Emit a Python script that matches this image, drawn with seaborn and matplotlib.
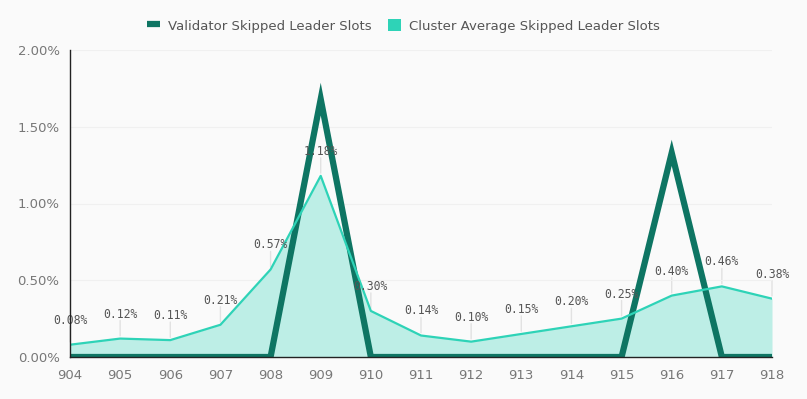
import matplotlib
matplotlib.use("Agg")
import matplotlib.pyplot as plt
import matplotlib.ticker as mticker
from matplotlib.lines import Line2D
from matplotlib.patches import Patch
import seaborn as sns
import pandas as pd

epochs = [904, 905, 906, 907, 908, 909, 910, 911, 912, 913, 914, 915, 916, 917, 918]
validator_skipped = [0, 0, 0, 0, 0, 1.68, 0, 0, 0, 0, 0, 0, 1.33, 0, 0]
cluster_skipped = [0.08, 0.12, 0.11, 0.21, 0.57, 1.18, 0.30, 0.14, 0.10, 0.15, 0.20, 0.25, 0.40, 0.46, 0.38]

dark_teal = "#0e7563"
light_teal = "#2ed3b7"
fill_teal = "#bdeee6"
bg = "#fafafa"

df = pd.DataFrame({"epoch": epochs, "validator": validator_skipped, "cluster": cluster_skipped})

sns.set_style("white")
plt.rcParams["font.family"] = ["DejaVu Sans"]

fig = plt.figure(figsize=(8.07, 3.99), dpi=100, facecolor=bg)
ax = fig.add_axes([70 / 807, 42 / 399, 702 / 807, 307 / 399], facecolor=bg)

ax.fill_between(df["epoch"], df["cluster"], 0, color=fill_teal, linewidth=0, zorder=1)
sns.lineplot(data=df, x="epoch", y="cluster", ax=ax, color=light_teal, linewidth=1.6, zorder=3)
sns.lineplot(data=df, x="epoch", y="validator", ax=ax, color=dark_teal, linewidth=4.5, zorder=2)
ax.lines[-1].set_solid_joinstyle("miter")
ax.lines[-1].set_solid_capstyle("butt")

for x, v in zip(epochs, cluster_skipped):
    ax.annotate("", xy=(x, v), xytext=(0, 15), textcoords="offset points",
                arrowprops=dict(arrowstyle="-", color="#e2e2e2", lw=1), zorder=0)
    ax.annotate(f"{v:.2f}%", xy=(x, v), xytext=(0, 13), textcoords="offset points",
                ha="center", va="bottom", fontsize=8.3, color="#555555",
                family="DejaVu Sans Mono", zorder=4)

ax.set_xlim(904, 918)
ax.set_ylim(0, 2.0)
ax.set_xticks(epochs)
ax.set_yticks([0, 0.5, 1.0, 1.5, 2.0])
ax.yaxis.set_major_formatter(mticker.FuncFormatter(lambda v, p: f"{v:.2f}%"))
ax.grid(axis="y", color="#f0f0f0", linewidth=0.8)
ax.set_axisbelow(True)
ax.set_xlabel("")
ax.set_ylabel("")

for side in ["top", "right"]:
    ax.spines[side].set_visible(False)
for side in ["left", "bottom"]:
    ax.spines[side].set_color("#222222")
    ax.spines[side].set_linewidth(1)
    ax.spines[side].set_zorder(5)
ax.tick_params(axis="both", which="major", length=5, width=1, color="#222222",
               labelsize=9.5, labelcolor="#777777", direction="out")
ax.tick_params(axis="y", length=4)

handles = [
    Line2D([0], [0], color=dark_teal, linewidth=4.5, solid_capstyle="butt"),
    Patch(facecolor=light_teal, edgecolor="none"),
]
fig.legend(handles, ["Validator Skipped Leader Slots", "Cluster Average Skipped Leader Slots"],
           loc="center", bbox_to_anchor=(0.5, 1 - 26 / 399), ncol=2, frameon=False,
           fontsize=9.5, labelcolor="#555555", handlelength=1.0, handleheight=1.0,
           columnspacing=1.2, handletextpad=0.6)

fig.savefig("out.png", dpi=100, facecolor=bg)
